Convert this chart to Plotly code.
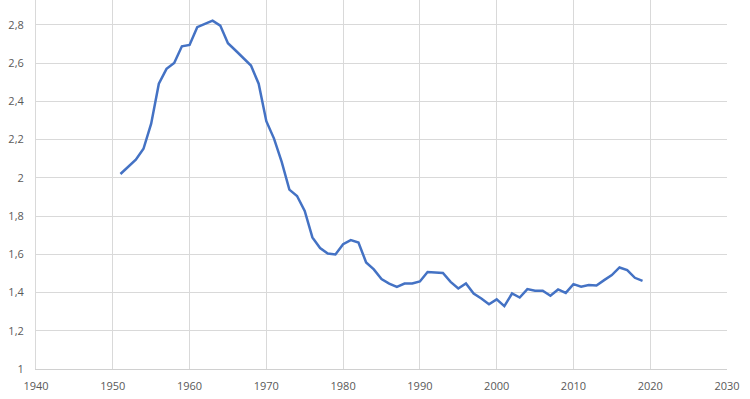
import plotly.graph_objects as go

years = list(range(1951, 2020))
values = [
    2.02, 2.06, 2.095, 2.152, 2.283, 2.492, 2.570, 2.601, 2.688, 2.695,
    2.788, 2.805, 2.822, 2.796, 2.704, 2.666, 2.628, 2.587, 2.492, 2.296,
    2.205, 2.083, 1.938, 1.905, 1.827, 1.688, 1.633, 1.604, 1.599, 1.653,
    1.674, 1.662, 1.557, 1.521, 1.470, 1.447, 1.430, 1.447, 1.447, 1.458,
    1.507, 1.505, 1.502, 1.456, 1.421, 1.447, 1.395, 1.369, 1.339, 1.364,
    1.329, 1.395, 1.374, 1.418, 1.409, 1.409, 1.383, 1.416, 1.398, 1.444,
    1.430, 1.439, 1.437, 1.465, 1.491, 1.531, 1.517, 1.477, 1.461,
]
y_ticks = [1, 1.2, 1.4, 1.6, 1.8, 2, 2.2, 2.4, 2.6, 2.8]
y_labels = ["1", "1,2", "1,4", "1,6", "1,8", "2", "2,2", "2,4", "2,6", "2,8"]
x_ticks = list(range(1940, 2031, 10))

fig = go.Figure(go.Scatter(
    x=years, y=values, mode="lines",
    line=dict(color="#4472C4", width=2.5),
    hoverinfo="skip",
))

font = dict(family="Open Sans, Liberation Sans, sans-serif", size=11, color="#595959")
fig.update_layout(
    width=750, height=399,
    margin=dict(l=36, r=23, t=0, b=30),
    paper_bgcolor="white", plot_bgcolor="white",
    showlegend=False,
    font=font,
    xaxis=dict(
        range=[1940, 2030], tickvals=x_ticks, ticktext=[str(v) for v in x_ticks],
        showgrid=True, gridcolor="#d9d9d9", gridwidth=1,
        showline=True, linecolor="#d0d0d0", linewidth=1,
        zeroline=False, ticks="", ticklabelstandoff=7, tickfont=font,
    ),
    yaxis=dict(
        range=[1, 2.93], tickvals=y_ticks, ticktext=y_labels,
        showgrid=True, gridcolor="#d9d9d9", gridwidth=1,
        showline=True, linecolor="#d9d9d9", linewidth=1,
        zeroline=False, ticks="", ticklabelstandoff=9, tickfont=font,
    ),
)

fig.write_html("out.html")
